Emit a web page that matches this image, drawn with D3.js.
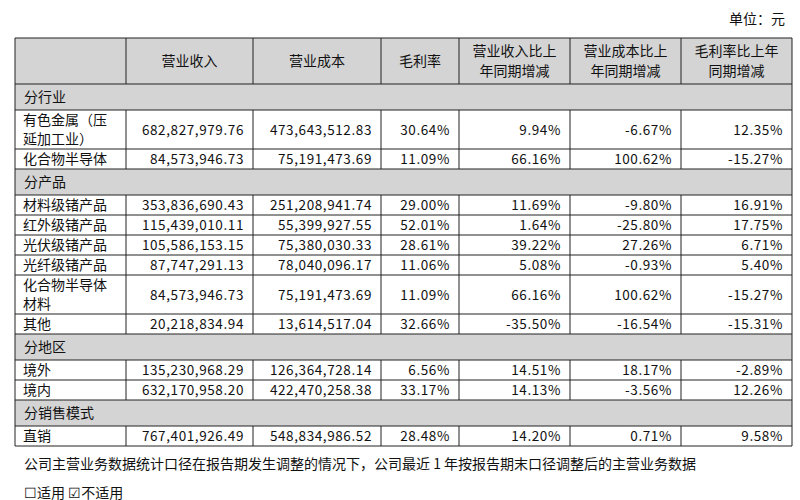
<!DOCTYPE html>
<html><head><meta charset="utf-8">
<script src="https://cdn.jsdelivr.net/npm/d3@7"></script>
<style>body{margin:0;background:#fff}text{font-family:"Noto Sans CJK SC",sans-serif;fill:#111}</style>
</head><body><svg id="chart" width="800" height="500"></svg>
<script>
const headers = ['', '营业收入', '营业成本', '毛利率', '营业收入比上|年同期增减', '营业成本比上|年同期增减', '毛利率比上年|同期增减']
// section title rows have a single label; data rows: name, revenue, cost, margin, rev chg, cost chg, margin chg
const rows = [
  ['分行业'],
  ['有色金属（压|延加工业）', '682,827,979.76', '473,643,512.83', '30.64%', '9.94%', '-6.67%', '12.35%'],
  ['化合物半导体', '84,573,946.73', '75,191,473.69', '11.09%', '66.16%', '100.62%', '-15.27%'],
  ['分产品'],
  ['材料级锗产品', '353,836,690.43', '251,208,941.74', '29.00%', '11.69%', '-9.80%', '16.91%'],
  ['红外级锗产品', '115,439,010.11', '55,399,927.55', '52.01%', '1.64%', '-25.80%', '17.75%'],
  ['光伏级锗产品', '105,586,153.15', '75,380,030.33', '28.61%', '39.22%', '27.26%', '6.71%'],
  ['光纤级锗产品', '87,747,291.13', '78,040,096.17', '11.06%', '5.08%', '-0.93%', '5.40%'],
  ['化合物半导体|材料', '84,573,946.73', '75,191,473.69', '11.09%', '66.16%', '100.62%', '-15.27%'],
  ['其他', '20,218,834.94', '13,614,517.04', '32.66%', '-35.50%', '-16.54%', '-15.31%'],
  ['分地区'],
  ['境外', '135,230,968.29', '126,364,728.14', '6.56%', '14.51%', '18.17%', '-2.89%'],
  ['境内', '632,170,958.20', '422,470,258.38', '33.17%', '14.13%', '-3.56%', '12.26%'],
  ['分销售模式'],
  ['直销', '767,401,926.49', '548,834,986.52', '28.48%', '14.20%', '0.71%', '9.58%']
]
const colEdges = [15, 126, 253, 381, 459, 570, 681, 792]

const svg = d3.select('#chart')
const x = d3.scaleOrdinal().domain(d3.range(8)).range(colEdges)
const tableTop = 38, headH = 46, lineH = 19.5, bandH = 26, rowH = 20

svg.append('text').attr('x', 785).attr('y', 24).attr('text-anchor', 'end').attr('font-size', 14).text('单位：元')

// header
svg.append('rect').attr('x', 15).attr('y', tableTop).attr('width', 777).attr('height', headH).attr('fill', '#d4d4d4')
headers.forEach((h, i) => {
  const parts = h.split('|')
  const cx = (x(i) + x(i + 1)) / 2
  parts.forEach((p, k) => svg.append('text').attr('x', cx)
    .attr('y', tableTop + headH / 2 + 5 + (k - (parts.length - 1) / 2) * 20)
    .attr('text-anchor', 'middle').attr('font-size', 14).text(p))
})

let y = tableTop + headH
const hLines = [tableTop, y]
rows.forEach(r => {
  if (r.length === 1) {
    svg.append('rect').attr('x', 15).attr('y', y).attr('width', 777).attr('height', bandH).attr('fill', '#d4d4d4')
    svg.append('text').attr('x', 24).attr('y', y + bandH / 2 + 5).attr('font-size', 14).text(r[0])
    y += bandH
  } else {
    const lines = r[0].split('|')
    const h = lines.length > 1 ? 39 : rowH
    lines.forEach((p, k) => svg.append('text').attr('x', 23)
      .attr('y', y + h / 2 + 5 + (k - (lines.length - 1) / 2) * lineH).attr('font-size', 14).text(p))
    r.slice(1).forEach((v, i) => svg.append('text').attr('x', x(i + 2) - 9)
      .attr('y', y + h / 2 + 5).attr('text-anchor', 'end').attr('font-size', 13.5).attr('letter-spacing', 0.6).text(v))
    svg.append('g').selectAll('line').data(colEdges.slice(1, -1)).join('line')
      .attr('x1', d => d).attr('x2', d => d).attr('y1', y).attr('y2', y + h).attr('stroke', '#222')
    y += h
  }
  hLines.push(y)
})

svg.append('g').selectAll('line').data(colEdges.slice(1, -1)).join('line')
  .attr('x1', d => d).attr('x2', d => d).attr('y1', tableTop).attr('y2', tableTop + headH).attr('stroke', '#222')
svg.append('g').selectAll('line').data(hLines).join('line')
  .attr('x1', 15).attr('x2', 792).attr('y1', d => d).attr('y2', d => d).attr('stroke', '#222')
svg.append('g').selectAll('line').data([15, 792]).join('line')
  .attr('x1', d => d).attr('x2', d => d).attr('y1', tableTop).attr('y2', y).attr('stroke', '#222')

svg.append('text').attr('x', 24).attr('y', y + 23).attr('font-size', 14)
  .text('公司主营业务数据统计口径在报告期发生调整的情况下，公司最近 1 年按报告期末口径调整后的主营业务数据')
svg.append('text').attr('x', 24).attr('y', y + 52).attr('font-size', 14).text('☐适用 ☑不适用')
</script></body></html>
